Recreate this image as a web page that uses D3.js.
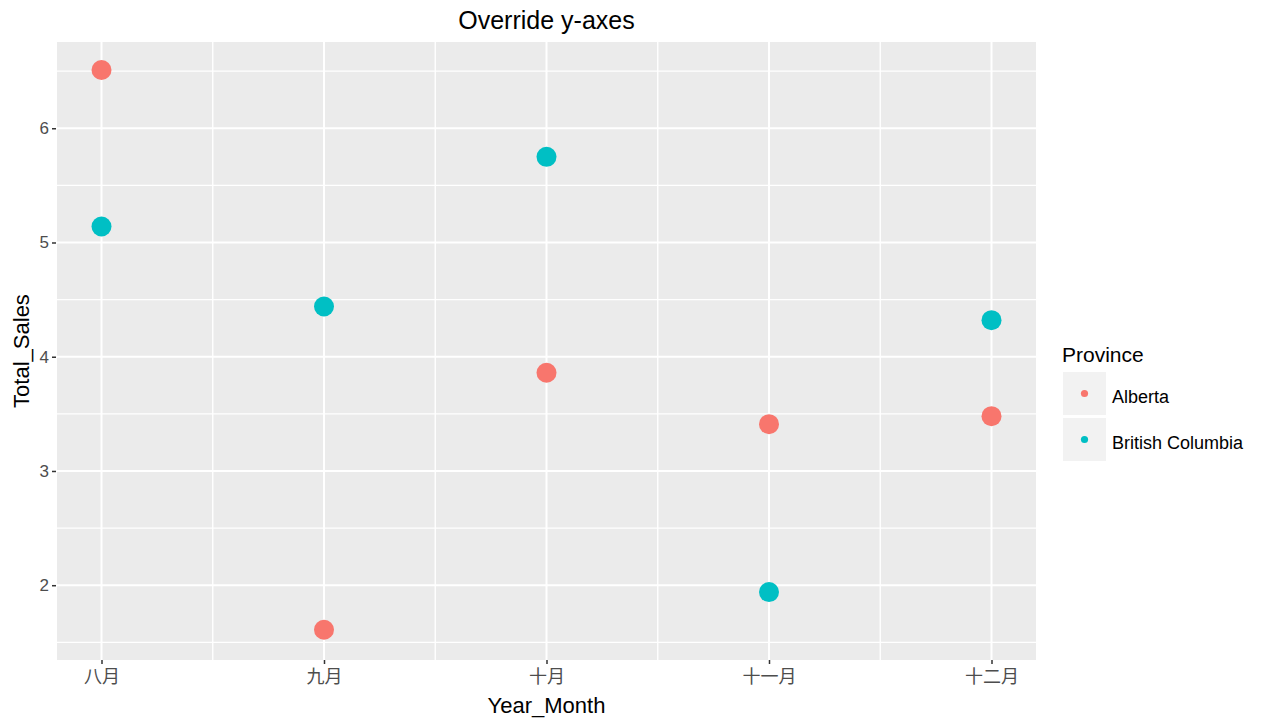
<!DOCTYPE html>
<html>
<head>
<meta charset="utf-8">
<script src="https://cdn.jsdelivr.net/npm/d3@7"></script>
<style>
  html, body { margin: 0; padding: 0; background: #ffffff; }
  svg { display: block; }
  text { font-family: "Liberation Sans", Arial, "Noto Sans CJK SC", sans-serif; }
</style>
</head>
<body>
<svg id="chart" width="1264" height="723"></svg>
<script>
// ---- data ----
const months = ["八月", "九月", "十月", "十一月", "十二月"];
const provinces = ["Alberta", "British Columbia"];
const albertaSales = [6.51, 1.61, 3.86, 3.41, 3.48];
const bcSales = [5.14, 4.44, 5.75, 1.94, 4.32];
const yTicks = [2, 3, 4, 5, 6];
const yMinorTicks = [1.5, 2.5, 3.5, 4.5, 5.5, 6.5];
const provinceColors = ["#F8766D", "#00BFC4"];
const chartTitle = "Override y-axes";
const xTitle = "Year_Month";
const yTitle = "Total_Sales";
const legendTitle = "Province";

// ---- layout ----
const panel = { left: 57, right: 1036, top: 42, bottom: 660 };
const svg = d3.select("#chart");

const series = [
  { name: provinces[0], values: albertaSales, color: provinceColors[0] },
  { name: provinces[1], values: bcSales, color: provinceColors[1] }
];
const points = [];
series.forEach(s => s.values.forEach((v, i) => points.push({ month: months[i], value: v, name: s.name, color: s.color })));

const allVals = points.map(p => p.value);
const yMin = d3.min(allVals), yMax = d3.max(allVals);
const pad = (yMax - yMin) * 0.05;

const x = d3.scalePoint().domain(months).range([panel.left, panel.right]).padding(0.2);
const y = d3.scaleLinear().domain([yMin - pad * 1.08, yMax + pad]).range([panel.bottom, panel.top]);

// panel background
svg.append("rect")
  .attr("x", panel.left).attr("y", panel.top)
  .attr("width", panel.right - panel.left).attr("height", panel.bottom - panel.top)
  .attr("fill", "#EBEBEB");

const grid = svg.append("g");
// minor horizontal
grid.selectAll(".hminor").data(yMinorTicks.filter(t => y(t) > panel.top && y(t) < panel.bottom)).enter()
  .append("line")
  .attr("x1", panel.left).attr("x2", panel.right)
  .attr("y1", d => y(d)).attr("y2", d => y(d))
  .attr("stroke", "#ffffff").attr("stroke-width", 1.4);
// minor vertical (midpoints)
const xMid = months.slice(1).map((m, i) => (x(m) + x(months[i])) / 2);
grid.selectAll(".vminor").data(xMid).enter()
  .append("line")
  .attr("x1", d => d).attr("x2", d => d)
  .attr("y1", panel.top).attr("y2", panel.bottom)
  .attr("stroke", "#ffffff").attr("stroke-width", 1.4);
// major horizontal
grid.selectAll(".hmajor").data(yTicks).enter()
  .append("line")
  .attr("x1", panel.left).attr("x2", panel.right)
  .attr("y1", d => y(d)).attr("y2", d => y(d))
  .attr("stroke", "#ffffff").attr("stroke-width", 2);
// major vertical
grid.selectAll(".vmajor").data(months).enter()
  .append("line")
  .attr("x1", d => x(d)).attr("x2", d => x(d))
  .attr("y1", panel.top).attr("y2", panel.bottom)
  .attr("stroke", "#ffffff").attr("stroke-width", 2);

// axes
const yAxis = d3.axisLeft(y).tickValues(yTicks).tickSize(4).tickPadding(3).tickFormat(d3.format("d"));
const yg = svg.append("g").attr("transform", `translate(${panel.left - 1},0)`).call(yAxis);
yg.select(".domain").remove();
yg.selectAll(".tick line").attr("stroke", "#333333").attr("stroke-width", 1.5);
yg.selectAll(".tick text").attr("fill", "#4D4D4D").style("font-size", "17px");

const xAxis = d3.axisBottom(x).tickSize(4).tickPadding(6);
const xg = svg.append("g").attr("transform", `translate(0,${panel.bottom})`).call(xAxis);
xg.select(".domain").remove();
xg.selectAll(".tick line").attr("stroke", "#333333").attr("stroke-width", 1.5);
xg.selectAll(".tick text").attr("fill", "#4D4D4D")
  .style("font-size", "18px").style("font-family", "'Noto Sans CJK SC', sans-serif");

// points
svg.append("g").selectAll("circle").data(points).enter()
  .append("circle")
  .attr("cx", d => x(d.month)).attr("cy", d => y(d.value))
  .attr("r", 10).attr("fill", d => d.color);

// titles
svg.append("text").attr("x", (panel.left + panel.right) / 2).attr("y", 29)
  .attr("text-anchor", "middle").style("font-size", "25px").attr("fill", "#000")
  .text(chartTitle);
svg.append("text").attr("x", (panel.left + panel.right) / 2).attr("y", 713)
  .attr("text-anchor", "middle").style("font-size", "22px").attr("fill", "#000")
  .text(xTitle);
svg.append("text").attr("transform", `translate(29,${(panel.top + panel.bottom) / 2}) rotate(-90)`)
  .attr("text-anchor", "middle").style("font-size", "22px").attr("fill", "#000")
  .text(yTitle);

// legend
const lg = svg.append("g").attr("transform", "translate(1062,0)");
lg.append("text").attr("x", 0).attr("y", 362).style("font-size", "21px").attr("fill", "#000").text(legendTitle);
const keySize = 43, keyTop = 372, keyGap = 3;
const items = lg.selectAll(".item").data(series).enter().append("g")
  .attr("transform", (d, i) => `translate(0,${keyTop + i * (keySize + keyGap)})`);
items.append("rect").attr("x", 1).attr("y", 0).attr("width", keySize).attr("height", keySize).attr("fill", "#F2F2F2");
items.append("circle").attr("cx", 1 + keySize / 2).attr("cy", keySize / 2).attr("r", 3.6).attr("fill", d => d.color);
items.append("text").attr("x", 50).attr("y", keySize / 2 + 3).attr("dy", "0.35em")
  .style("font-size", "18px").attr("fill", "#000").text(d => d.name);
</script>
</body>
</html>
